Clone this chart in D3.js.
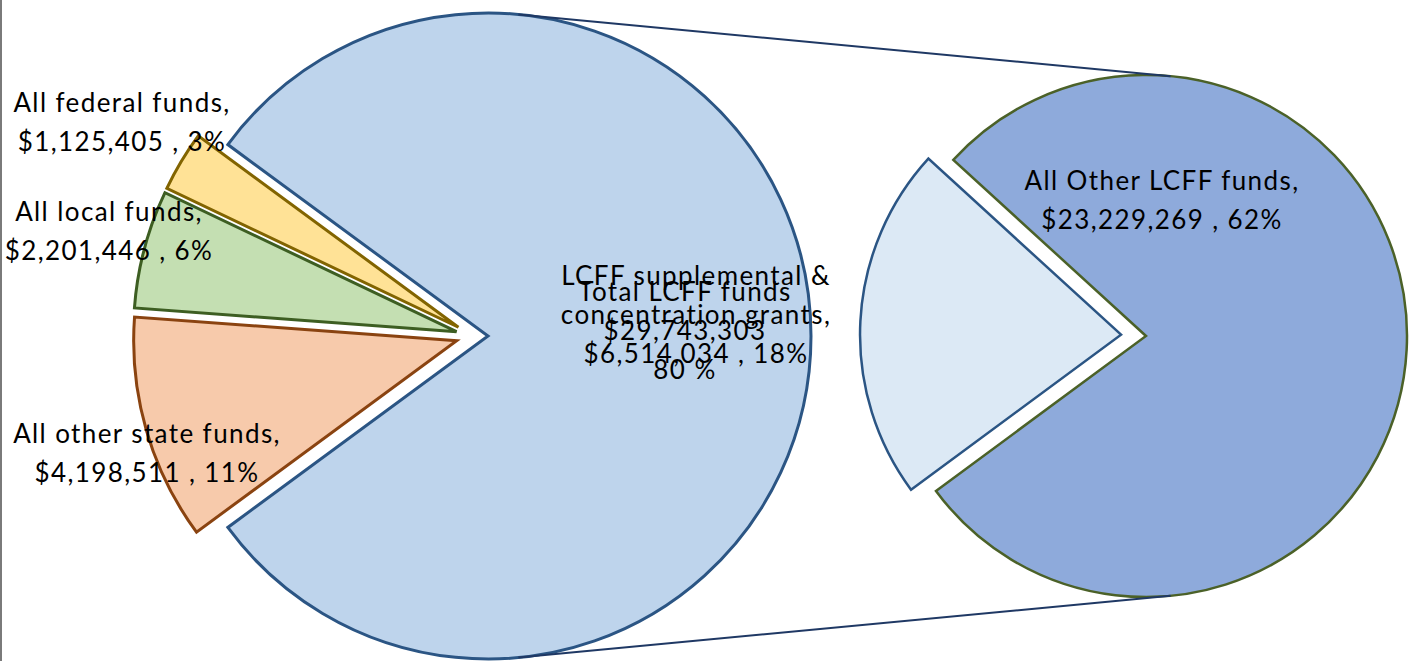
<!DOCTYPE html>
<html>
<head>
<meta charset="utf-8">
<script src="https://cdn.jsdelivr.net/npm/d3@7"></script>
<style>
  body { margin: 0; background: #fff; }
  svg text { font-family: Lato, "Open Sans", sans-serif; fill: #000; letter-spacing: 1.4px; }
</style>
</head>
<body>
<div id="chart"></div>
<script>
// main pie (counter-clockwise from the top of the small-slice group)
const mainCategories = ["All federal funds", "All local funds", "All other state funds", "Total LCFF funds"];
const mainValues = [1125405, 2201446, 4198511, 29743303];
const mainPercents = ["3%", "6%", "11%", "80 %"];

// second pie, split of Total LCFF funds
const subCategories = ["LCFF supplemental & concentration grants", "All Other LCFF funds"];
const subValues = [6514034, 23229269];
const subPercents = ["18%", "62%"];

const mainFill = ["#FFE296", "#C4DFB2", "#F7CAAB", "#BED4EC"];
const mainStroke = ["#826400", "#3D5E22", "#8A4310", "#2B5584"];
const subFill = ["#DCE9F5", "#8EAADB"];
const subStroke = ["#2B5584", "#4B6128"];

const width = 1411, height = 661;
const fmt = d3.format("$,");
const rad = (deg) => deg * Math.PI / 180;

const svg = d3.select("#chart").append("svg")
  .attr("width", width)
  .attr("height", height);

// thin gray frame edge on the left
svg.append("rect").attr("x", 0).attr("y", 0).attr("width", 2).attr("height", height).attr("fill", "#7a7a7a");

const c1 = { x: 488, y: 336, r: 323 };
const c2 = { x: 1146, y: 336, r: 261 };

// ---- main pie ----
const total = d3.sum(mainValues);
const smallShare = d3.sum(mainValues.slice(0, 3)) / total;
const start1 = 1.5 * Math.PI + smallShare * Math.PI; // small slices centred on the left
const pie1 = d3.pie().sort(null).startAngle(start1).endAngle(start1 - 2 * Math.PI);
const arcs1 = pie1(mainValues);
const arc1 = d3.arc().innerRadius(0).outerRadius(c1.r);

const g1 = svg.append("g").attr("transform", `translate(${c1.x},${c1.y})`);
g1.selectAll("path")
  .data(arcs1)
  .join("path")
  .attr("d", arc1)
  .attr("transform", (d, i) => {
    if (i === 3) return null;
    const mid = (d.startAngle + d.endAngle) / 2;
    const dx = -15 + 17 * Math.sin(mid);
    const dy = -17 * Math.cos(mid);
    return `translate(${dx},${dy})`;
  })
  .attr("fill", (d, i) => mainFill[i])
  .attr("stroke", (d, i) => mainStroke[i])
  .attr("stroke-width", 3)
  .attr("stroke-linejoin", "miter");

// ---- second pie ----
const subTotal = d3.sum(subValues);
const tilt = rad(3);
const start2 = 1.5 * Math.PI + tilt + (subValues[0] / subTotal) * Math.PI;
const pie2 = d3.pie().sort(null).startAngle(start2).endAngle(start2 - 2 * Math.PI);
const arcs2 = pie2(subValues);
const arc2 = d3.arc().innerRadius(0).outerRadius(c2.r);

const g2 = svg.append("g").attr("transform", `translate(${c2.x},${c2.y})`);
g2.selectAll("path")
  .data(arcs2)
  .join("path")
  .attr("d", arc2)
  .attr("transform", (d, i) => {
    if (i !== 0) return null;
    const mid = (d.startAngle + d.endAngle) / 2;
    return `translate(${25 * Math.sin(mid)},${-25 * Math.cos(mid)})`;
  })
  .attr("fill", (d, i) => subFill[i])
  .attr("stroke", (d, i) => subStroke[i])
  .attr("stroke-width", 2.5);

// ---- connector lines: outer tangents of the two pies ----
const dist = c2.x - c1.x;
const phi = Math.asin((c1.r - c2.r) / dist);
[-1, 1].forEach(s => {
  svg.append("line")
    .attr("x1", c1.x + c1.r * Math.sin(phi))
    .attr("y1", c1.y + s * c1.r * Math.cos(phi))
    .attr("x2", c2.x + c2.r * Math.sin(phi))
    .attr("y2", c2.y + s * c2.r * Math.cos(phi))
    .attr("stroke", "#1F3864")
    .attr("stroke-width", 2);
});

// ---- labels ----
const lh = 39;
function label(cx, cy, lines) {
  const n = lines.length;
  const t = svg.append("text")
    .attr("text-anchor", "middle")
    .style("font-size", "26px");
  lines.forEach((line, i) => {
    t.append("tspan")
      .attr("x", cx)
      .attr("y", cy + (i - (n - 1) / 2) * lh)
      .text(line);
  });
}

// label offsets from each pie centre
const mainLabelOffsets = [[-366, -205], [-379, -96], [-341, 126], [197, 4]];
mainValues.forEach((v, i) => {
  const [ox, oy] = mainLabelOffsets[i];
  const lines = i === 3
    ? [mainCategories[i], fmt(v), mainPercents[i]]
    : [mainCategories[i] + ",", fmt(v) + " , " + mainPercents[i]];
  label(c1.x + ox, c1.y + oy, lines);
});

// label of the exploded sub slice sits inside the main pie, the other on its own slice
label(c1.x + 208, c1.y - 12, ["LCFF supplemental &", "concentration grants,", fmt(subValues[0]) + " , " + subPercents[0]]);
label(c2.x + 16, c2.y - 127, [subCategories[1] + ",", fmt(subValues[1]) + " , " + subPercents[1]]);
</script>
</body>
</html>
